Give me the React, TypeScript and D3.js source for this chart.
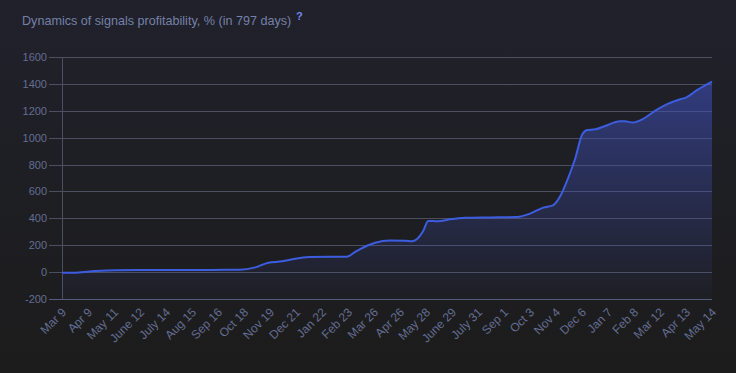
import React from 'react';
import * as d3 from 'd3';

// days since Mar 9 (797 days total) and profitability in %
const days = [0, 16, 34, 65, 96, 169, 200, 218, 237, 253, 270, 286, 304, 329, 349, 359, 365, 384, 402, 421, 429, 435, 443, 449, 461, 476, 494, 525, 558, 574, 590, 602, 611, 620, 629, 638, 644, 654, 666, 684, 690, 700, 712, 727, 742, 758, 765, 779, 797];
const values = [-5, -5, 5, 13, 15, 15, 18, 18, 35, 70, 80, 100, 112, 115, 114, 148, 170, 219, 236, 234, 229, 244, 307, 381, 378, 393, 404, 407, 410, 435, 480, 497, 566, 690, 839, 1025, 1057, 1062, 1087, 1122, 1122, 1113, 1138, 1199, 1249, 1286, 1298, 1355, 1417];

const xLabels = ['Mar 9', 'Apr 9', 'May 11', 'June 12', 'July 14', 'Aug 15', 'Sep 16', 'Oct 18', 'Nov 19', 'Dec 21', 'Jan 22', 'Feb 23', 'Mar 26', 'Apr 26', 'May 28', 'June 29', 'July 31', 'Sep 1', 'Oct 3', 'Nov 4', 'Dec 6', 'Jan 7', 'Feb 8', 'Mar 12', 'Apr 13', 'May 14'];
const yTicks = [-200, 0, 200, 400, 600, 800, 1000, 1200, 1400, 1600];

const TOTAL_DAYS = 797;

export default function App() {
  const width = 736;
  const height = 373;
  const left = 62, right = 712, top = 57, bottom = 299;

  const x = d3.scaleLinear().domain([0, TOTAL_DAYS]).range([left, right]);
  const y = d3.scaleLinear().domain([-200, 1600]).range([bottom, top]);
  const tickPos = d3.scalePoint<string>().domain(xLabels).range([left, right]);

  const pts = days.map((d, i) => [d, values[i]] as [number, number]);

  const line = d3.line<[number, number]>()
    .x(d => x(d[0]))
    .y(d => y(d[1]))
    .curve(d3.curveMonotoneX);

  const area = d3.area<[number, number]>()
    .x(d => x(d[0]))
    .y0(y(-200))
    .y1(d => y(d[1]))
    .curve(d3.curveMonotoneX);

  const font = 'Arial, "Liberation Sans", sans-serif';
  const labelColor = '#646d92';

  return (
    <svg width={width} height={height} style={{ position: 'fixed', left: 0, top: 0 }}>
      <defs>
        <linearGradient id="bg" x1="0" y1="0" x2="0" y2="1">
          <stop offset="0%" stopColor="#20212b" />
          <stop offset="100%" stopColor="#1c1c1c" />
        </linearGradient>
        <linearGradient id="fill" gradientUnits="userSpaceOnUse"
          x1={0} y1={y(1450)} x2={0} y2={y(-200)}>
          <stop offset="0%" stopColor="#3e4fb8" stopOpacity={0.6} />
          <stop offset="100%" stopColor="#3e4fb8" stopOpacity={0.03} />
        </linearGradient>
      </defs>
      <rect width={width} height={height} fill="url(#bg)" />

      <text x={22} y={25} fill="#7580a8" fontFamily={font} fontSize={12.6}>
        Dynamics of signals profitability, % (in 797 days)
      </text>
      <text x={296} y={20} fill="#7089e8" fontFamily={font} fontSize={11} fontWeight="bold">?</text>

      {yTicks.map(t => (
        <g key={t}>
          <line x1={49} x2={right} y1={Math.round(y(t)) + 0.5} y2={Math.round(y(t)) + 0.5}
            stroke={t === -200 ? '#545b7c' : '#4c4f60'} strokeWidth={1} />
          <text x={47} y={y(t) + 4} textAnchor="end" fill={labelColor} fontFamily={font} fontSize={11}>{t}</text>
        </g>
      ))}
      <line x1={left + 0.5} x2={left + 0.5} y1={top} y2={bottom} stroke="#4c4f60" />

      <path d={area(pts) ?? ''} fill="url(#fill)" />
      <path d={line(pts) ?? ''} fill="none" stroke="#3d5de0" strokeWidth={2} />

      {xLabels.map(l => {
        const px = tickPos(l) ?? 0;
        return (
          <text key={l} transform={`translate(${px + 5},${bottom + 14}) rotate(-45)`} textAnchor="end"
            fill={labelColor} fontFamily={font} fontSize={12}>{l}</text>
        );
      })}
    </svg>
  );
}
